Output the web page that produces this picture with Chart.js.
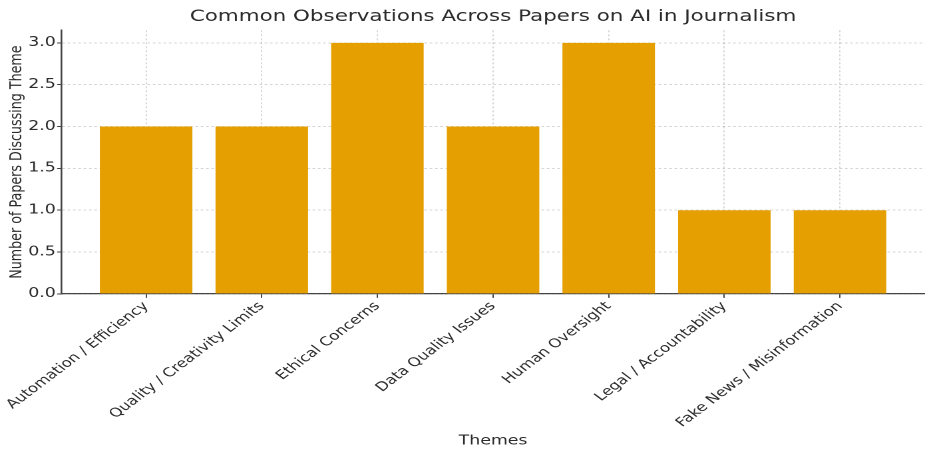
<!DOCTYPE html>
<html>
<head>
<meta charset="utf-8">
<script src="https://cdn.jsdelivr.net/npm/chart.js@4/dist/chart.umd.min.js"></script>
<style>
  html, body { margin: 0; padding: 0; background: #ffffff; overflow: hidden; }
  #wrap { width: 925px; height: 450px; overflow: hidden; }
  /* chart is drawn narrower and widened horizontally */
  #chart { display: block; transform-origin: 0 0; }
</style>
</head>
<body>
<div id="wrap"><canvas id="chart"></canvas></div>
<script>
const themes = [
  "Automation / Efficiency",
  "Quality / Creativity Limits",
  "Ethical Concerns",
  "Data Quality Issues",
  "Human Oversight",
  "Legal / Accountability",
  "Fake News / Misinformation"
];
const paperCounts = [2, 2, 3, 2, 3, 1, 1];
const yTickValues = [0, 0.5, 1.0, 1.5, 2.0, 2.5, 3.0];

const STRETCH = 1.33;
const W = Math.round(925 / STRETCH);
const H = 450;

const canvas = document.getElementById('chart');
canvas.style.width = W + 'px';
canvas.style.height = H + 'px';
canvas.style.transform = 'scaleX(' + (925 / W) + ')';
canvas.width = W;
canvas.height = H;

const textColor = '#2b2b2b';
const axisColor = '#444444';
const gridColor = 'rgba(0,0,0,0.17)';
const family = '"DejaVu Sans", sans-serif';

new Chart(canvas, {
  type: 'bar',
  data: {
    datasets: [{
      label: 'Number of Papers',
      data: paperCounts.map((v, i) => ({ x: i, y: v })),
      backgroundColor: '#E69F00',
      borderWidth: 0,
      categoryPercentage: 1.0,
      barPercentage: 0.8
    }]
  },
  options: {
    responsive: false,
    devicePixelRatio: 2,
    animation: false,
    layout: { padding: { left: 5, right: 0, top: 2, bottom: 1 } },
    plugins: {
      legend: { display: false },
      tooltip: { enabled: false },
      title: {
        display: true,
        fullSize: false,
        text: 'Common Observations Across Papers on AI in Journalism',
        color: textColor,
        font: { family, size: 16.1, weight: 'normal' },
        padding: { top: 5, bottom: 4 }
      }
    },
    scales: {
      x: {
        type: 'linear',
        min: -0.735,
        max: 6.735,
        offset: false,
        z: 1,
        afterBuildTicks: (scale) => { scale.ticks = themes.map((_, i) => ({ value: i })); },
        ticks: {
          autoSkip: false,
          minRotation: 45,
          maxRotation: 45,
          color: textColor,
          font: { family, size: 12.5 },
          padding: 1,
          callback: (v) => themes[v]
        },
        grid: {
          offset: false,
          color: gridColor,
          tickColor: axisColor,
          tickBorderDash: [],
          tickLength: 4,
          drawTicks: true
        },
        border: { display: true, color: axisColor, width: 1.3, dash: [2, 2] },
        title: {
          display: true,
          text: 'Themes',
          color: textColor,
          font: { family, size: 13 },
          padding: { top: 2, bottom: 0 }
        }
      },
      y: {
        type: 'linear',
        min: 0,
        max: 3.15,
        z: 1,
        afterBuildTicks: (scale) => { scale.ticks = yTickValues.map(v => ({ value: v })); },
        ticks: {
          color: textColor,
          font: { family, size: 13 },
          padding: 1,
          callback: (v) => Number(v).toFixed(1)
        },
        grid: {
          color: gridColor,
          tickColor: axisColor,
          tickBorderDash: [],
          tickLength: 3,
          drawTicks: true
        },
        border: { display: true, color: axisColor, width: 1.3, dash: [2, 2] },
        title: {
          display: true,
          text: 'Number of Papers Discussing Theme',
          color: textColor,
          font: { family, size: 12.7 },
          padding: { top: 0, bottom: 0 }
        }
      }
    }
  }
});
</script>
</body>
</html>
